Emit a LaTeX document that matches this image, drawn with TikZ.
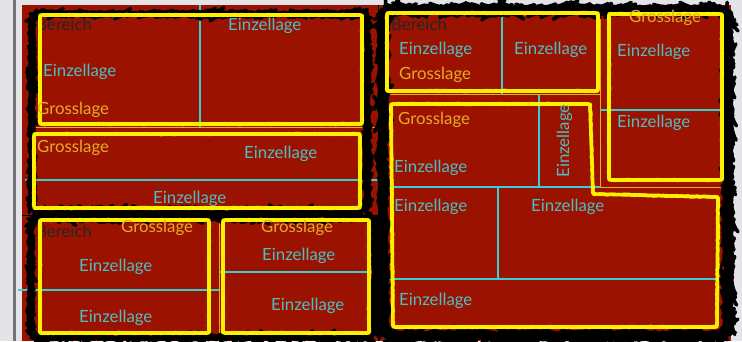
\documentclass[tikz,border=0pt]{standalone}
\usepackage{fontspec}
\setmainfont{Lato}
\usetikzlibrary{decorations.pathmorphing}

\definecolor{mapred}{RGB}{155,18,0}
\definecolor{lagecyan}{RGB}{60,205,210}
\definecolor{lagetext}{RGB}{78,190,196}
\definecolor{grossgold}{RGB}{228,172,42}
\definecolor{grossyellow}{RGB}{255,240,0}
\definecolor{margingray}{RGB}{228,228,232}

\begin{document}
\pgfmathsetseed{7}
\begin{tikzpicture}[
    x=1pt, y=-1pt,
    every node/.style={inner sep=0pt, anchor=base west, font=\fontsize{16.8}{20}\selectfont},
    einzel/.style={text=lagetext},
    gross/.style={text=grossgold},
    bereich/.style={text=black!85},
    einzelline/.style={draw=lagecyan, line width=1.2pt},
    grossline/.style={draw=grossgold, line width=1pt},
    rough/.style={
        decorate,
        line join=round,
        line cap=round,
        decoration={random steps, segment length=1.6pt, amplitude=0.8pt}
    },
    bereichbox/.style={
        draw=black,
        line width=4.5pt,
        rounded corners=10pt
    },
    bereichrough/.style={
        draw=black,
        line width=3.5pt,
        rounded corners=10pt,
        rough,
        decoration={amplitude=0.5pt}
    },
    grossbox/.style={
        draw=grossyellow,
        line width=3.6pt,
        rounded corners=2pt
    },
    grossrough/.style={
        draw=grossyellow,
        line width=3pt,
        sharp corners,
        rough
    }
]

% background
\fill[margingray] (0,0) rectangle (742,341);
\fill[black!55] (13,0) rectangle (15.5,341);
\fill[mapred] (22,5) rectangle (731,341);

% Bereich borders
\draw[black, line width=0.8pt] (378.5,5) -- (378.5,341);
\draw[black, line width=0.8pt] (22,215.5) -- (378.5,215.5);

% Einzellage and Grosslage borders, left half
\draw[einzelline] (200,5) -- (200,128);
\draw[grossline] (30,128) -- (378,128);
\draw[einzelline] (25,180) -- (378,180);
\draw[einzelline] (18,290) -- (219,290);
\draw[grossline] (219,216) -- (219,341);
\draw[einzelline] (219,272) -- (378,272);

% Einzellage and Grosslage borders, right half
\draw[grossline] (379,95) -- (600,95);
\draw[grossline] (600.5,5) -- (600.5,188);
\draw[grossline] (600,188) -- (731,188);
\draw[einzelline] (502,12) -- (502,95);
\draw[einzelline] (600,110) -- (735,110);
\draw[einzelline] (539,95) -- (539,187);
\draw[einzelline] (383,187) -- (600,187);
\draw[einzelline] (498,187) -- (498,279);
\draw[einzelline] (383,279) -- (732,279);

% Bereich labels
\node[bereich] (bereichA) at (36,31) {Bereich};
\node[bereich] (bereichB) at (36,238) {Bereich};
\node[bereich] (bereichC) at (391,31) {Bereich};

% Bereich outlines
\draw[bereichbox] (32,14) rectangle (367,211);
\draw[bereichrough] (32,14) rectangle (367,211);
\draw[bereichbox] (31,218) rectangle (375,337);
\draw[bereichrough] (31,218) rectangle (375,337);
\draw[bereichbox, rounded corners=16pt] (383,10) rectangle (728,336);
\draw[bereichrough, rounded corners=16pt] (383,10) rectangle (728,336);

% Grosslage outlines
\draw[grossbox] (40,15) rectangle (362,124);
\draw[grossrough] (40,15) rectangle (362,124);
\draw[grossbox] (34,134) rectangle (360,208);
\draw[grossrough] (34,134) rectangle (360,208);
\draw[grossbox] (40,220) rectangle (209,333);
\draw[grossrough] (40,220) rectangle (209,333);
\draw[grossbox] (223,220) rectangle (369,333);
\draw[grossrough] (223,220) rectangle (369,333);
\draw[grossbox] (387,13) rectangle (598,91);
\draw[grossrough] (387,13) rectangle (598,91);
\draw[grossbox] (609,14) rectangle (722,180);
\draw[grossrough] (609,14) rectangle (722,180);
\draw[grossbox] (391,104) -- (590,104) -- (593,194) -- (718,197) -- (717,327) -- (393,327) -- cycle;
\draw[grossrough] (391,104) -- (590,104) -- (593,194) -- (718,197) -- (717,327) -- (393,327) -- cycle;

% labels, left half
\node[einzel] (einzelA1) at (228,31) {Einzellage};
\node[einzel] (einzelA2) at (43,77) {Einzellage};
\node[gross] (grossA) at (37,115) {Grosslage};
\node[gross] (grossB) at (37,153) {Grosslage};
\node[einzel] (einzelB1) at (244,159) {Einzellage};
\node[einzel] (einzelB2) at (153,204) {Einzellage};
\node[gross] (grossC) at (121,233) {Grosslage};
\node[einzel] (einzelC1) at (79,272) {Einzellage};
\node[einzel] (einzelC2) at (79,323) {Einzellage};
\node[gross] (grossD) at (261,233) {Grosslage};
\node[einzel] (einzelD1) at (262,261) {Einzellage};
\node[einzel] (einzelD2) at (271,311) {Einzellage};

% labels, right half
\node[einzel] (einzelE1) at (399,55) {Einzellage};
\node[einzel] (einzelE2) at (514,55) {Einzellage};
\node[gross] (grossE) at (399,80) {Grosslage};
\node[gross] (grossF) at (629,23) {Grosslage};
\node[einzel] (einzelF1) at (617,57) {Einzellage};
\node[einzel] (einzelF2) at (617,128) {Einzellage};
\node[gross] (grossG) at (398,125) {Grosslage};
\node[einzel, rotate=90, anchor=base] (einzelG1) at (569,141) {Einzellage};
\node[einzel] (einzelG2) at (394,173) {Einzellage};
\node[einzel] (einzelG3) at (394,212) {Einzellage};
\node[einzel] (einzelG4) at (531,212) {Einzellage};
\node[einzel] (einzelG5) at (399,306) {Einzellage};

\useasboundingbox (0,0) rectangle (742,341);
\end{tikzpicture}
\end{document}
